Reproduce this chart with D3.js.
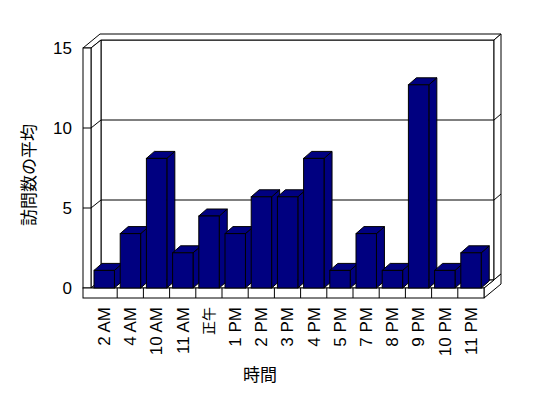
<!DOCTYPE html>
<html>
<head>
<meta charset="utf-8">
<script src="https://d3js.org/d3.v7.min.js"></script>
<style>
  body { margin: 0; background: white; }
  svg { display: block; }
</style>
</head>
<body>
<svg width="548" height="398" id="MainSVG"></svg>
<script>
// chart data
var categories = ["2 AM", "4 AM", "10 AM", "11 AM", "正午", "1 PM", "2 PM", "3 PM", "4 PM", "5 PM", "7 PM", "8 PM", "9 PM", "10 PM", "11 PM"];
var visits = [1.1, 3.4, 8.1, 2.2, 4.5, 3.4, 5.7, 5.7, 8.1, 1.1, 3.4, 1.1, 12.7, 1.1, 2.2];
var yTicks = [0, 5, 10, 15];
var yTitle = "訪問数の平均";
var xTitle = "時間";

var svg = d3.select("#MainSVG");
svg.append("rect").attr("width", 548).attr("height", 398).attr("fill", "white");

var xs = d3.scaleBand().domain(categories).range([91, 484]);
var ys = d3.scaleLinear().domain([0, 15]).range([288, 48]);

var x0 = xs.range()[0], x1 = xs.range()[1];
var y0 = ys(0), yT = ys(15);
var D = [10, -8];   // floor depth offset
var T = [7, -6];    // wall thickness offset
var wall = 8;       // left wall thickness
var floorH = 10;    // floor slab thickness
var B = [8, -7];    // bar depth offset

function poly(pts) { return "M" + pts.map(function(p) { return p.join(","); }).join("L") + "Z"; }

var frame = svg.append("g").attr("fill", "white").attr("stroke", "black").attr("stroke-width", 1);

// back wall front face
frame.append("path").attr("d", poly([[x0 + D[0], yT + D[1]], [x1 + D[0], yT + D[1]], [x1 + D[0], y0 + D[1]], [x0 + D[0], y0 + D[1]]]));
// top of the walls
frame.append("path").attr("d", poly([[x0 - wall, yT], [x0, yT], [x0 + D[0], yT + D[1]], [x1 + D[0], yT + D[1]],
  [x1 + D[0] + T[0], yT + D[1] + T[1]], [x0 - wall + D[0] + T[0], yT + D[1] + T[1]]]));
// back wall right side
frame.append("path").attr("d", poly([[x1 + D[0], yT + D[1]], [x1 + D[0] + T[0], yT + D[1] + T[1]], [x1 + D[0] + T[0], y0 + D[1] + T[1]], [x1 + D[0], y0 + D[1]]]));
// floor right side
frame.append("path").attr("d", poly([[x1, y0], [x1, y0 + floorH], [x1 + D[0] + T[0], y0 + floorH + D[1] + T[1]], [x1 + D[0] + T[0], y0 + D[1] + T[1]]]));
// left wall inner face
frame.append("path").attr("d", poly([[x0, yT], [x0 + D[0], yT + D[1]], [x0 + D[0], y0 + D[1]], [x0, y0]]));
// floor top
frame.append("path").attr("d", poly([[x0, y0], [x1, y0], [x1 + D[0], y0 + D[1]], [x0 + D[0], y0 + D[1]]]));
// left wall front face
frame.append("rect").attr("x", x0 - wall).attr("y", yT).attr("width", wall).attr("height", y0 - yT);
// floor front face
frame.append("rect").attr("x", x0 - wall).attr("y", y0).attr("width", x1 - x0 + wall).attr("height", floorH);

// gridlines
frame.selectAll(".grid").data(yTicks.filter(function(v) { return v > 0 && v < 15; }))
  .enter().append("path").attr("class", "grid").attr("fill", "none")
  .attr("d", function(v) {
    var y = ys(v);
    return "M" + (x0 - wall) + "," + y + "H" + x0 + "L" + (x0 + D[0]) + "," + (y + D[1]) +
      "H" + (x1 + D[0]) + "l" + T[0] + "," + T[1];
  });

// category separators on floor front
frame.selectAll(".sep").data(categories.slice(1))
  .enter().append("line").attr("class", "sep")
  .attr("x1", function(d) { return xs(d); }).attr("x2", function(d) { return xs(d); })
  .attr("y1", y0).attr("y2", y0 + floorH);

// bars
var bw = xs.bandwidth();
var off = 3, fw = bw * 0.78;
var bars = svg.append("g").attr("fill", "#000080").attr("stroke", "black").attr("stroke-width", 1)
  .selectAll(".bar").data(categories).enter().append("g").attr("class", "bar");

bars.append("path").attr("d", function(d, i) {
  var xl = xs(d) + off, xr = xl + fw, yv = ys(visits[i]);
  return poly([[xr, yv], [xr + B[0], yv + B[1]], [xr + B[0], y0 + B[1]], [xr, y0]]);
});
bars.append("path").attr("d", function(d, i) {
  var xl = xs(d) + off, xr = xl + fw, yv = ys(visits[i]);
  return poly([[xl, yv], [xr, yv], [xr + B[0], yv + B[1]], [xl + B[0], yv + B[1]]]);
});
bars.append("rect")
  .attr("x", function(d) { return xs(d) + off; })
  .attr("y", function(d, i) { return ys(visits[i]); })
  .attr("width", fw)
  .attr("height", function(d, i) { return y0 - ys(visits[i]); });

// y tick labels
svg.selectAll(".ylab").data(yTicks).enter().append("text")
  .attr("class", "ylab")
  .attr("x", 72).attr("y", function(v) { return ys(v); })
  .attr("dy", "0.35em").attr("text-anchor", "end")
  .attr("font-family", "Liberation Sans, Arial, sans-serif").attr("font-size", "17px")
  .text(function(v) { return v; });

// x tick labels
svg.selectAll(".xlab").data(categories).enter().append("text")
  .attr("class", "xlab")
  .attr("transform", function(d) { return "translate(" + (xs(d) + bw / 2) + ",307) rotate(-90)"; })
  .attr("dy", "0.35em").attr("text-anchor", "end")
  .attr("font-family", function(d) { return /[^\x00-\x7f]/.test(d) ? "Noto Sans CJK JP" : "Liberation Sans, Arial, sans-serif"; })
  .attr("font-size", function(d) { return /[^\x00-\x7f]/.test(d) ? "14px" : "17px"; })
  .text(function(d) { return d; });

// axis titles
svg.append("text")
  .attr("transform", "translate(29,175) rotate(-90)")
  .attr("text-anchor", "middle").attr("dy", "0.35em")
  .attr("font-family", "Noto Sans CJK JP").attr("font-size", "17px")
  .text(yTitle);

svg.append("text")
  .attr("x", 260).attr("y", 381)
  .attr("text-anchor", "middle")
  .attr("font-family", "Noto Sans CJK JP").attr("font-size", "17px")
  .text(xTitle);
</script>
</body>
</html>
